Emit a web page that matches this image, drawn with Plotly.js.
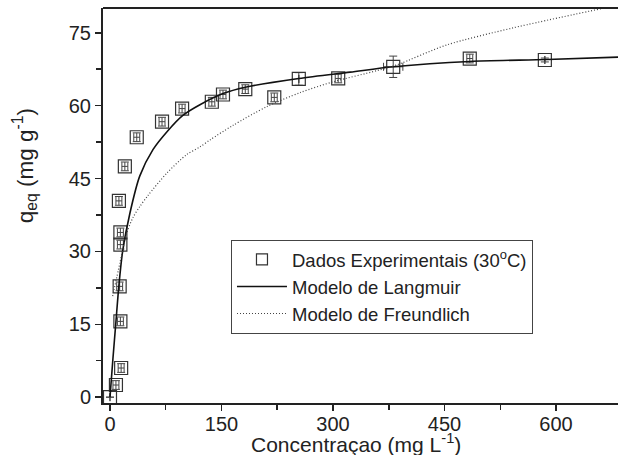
<!DOCTYPE html>
<html>
<head>
<meta charset="utf-8">
<script src="https://cdn.plot.ly/plotly-3.0.1.min.js"></script>
<style>html,body{margin:0;padding:0;background:#fff;}#chart{width:618px;height:455px;}</style>
</head>
<body>
<div id="chart"></div>
<script>
// Experimental data (30 °C)
var expC    = [0, 8, 15, 14, 13, 14, 14, 12, 20, 36, 70, 97, 137, 152, 182, 221, 254, 307, 381, 484, 585];
var expQ    = [0, 2.5, 6.0, 15.6, 22.8, 31.4, 33.9, 40.4, 47.5, 53.5, 56.7, 59.4, 60.8, 62.3, 63.4, 61.7, 65.5, 65.6, 68.0, 69.7, 69.4];
var expErrQ = [0, 0.9, 0.9, 0.9, 0.9, 0.9, 0.9, 0.9, 0.9, 0.9, 0.9, 0.9, 0.9, 0.9, 0.9, 0.9, 1.3, 0.9, 2.2, 0.9, 0.4];
var expErrC = [0, 4, 4, 4, 4, 4, 4, 4, 4, 4, 4, 4, 4, 4, 4, 4, 0, 4, 13, 4, 0];

// Langmuir model curve
var langC = [0, 4, 8, 12, 17, 27, 40, 58, 77, 98, 121, 152, 182, 254, 323, 381, 484, 588, 684];
var langQ = [0, 8, 15.5, 23, 30, 38, 45.5, 51, 54.7, 58.0, 60.2, 62.5, 63.8, 65.6, 66.9, 68.0, 69.1, 69.5, 70.0];

// Freundlich model curve
var freC = [3.6, 13.5, 22, 31, 40, 51, 77, 103, 121, 135, 165, 211, 256, 300, 359, 386, 453, 542, 662];
var freQ = [20.8, 27.7, 33.5, 37, 39.2, 41.5, 46.2, 49.9, 51.5, 53, 55.9, 59.8, 62.7, 64.9, 67.2, 68.4, 72.5, 76.0, 80.0];

// Labels
var legendNames = ['Dados Experimentais (30<sup>o</sup>C)', 'Modelo de Langmuir', 'Modelo de Freundlich'];
var xTitle = 'Concentraçao (mg L<sup>-1</sup>)';
var yTitle = 'q<sub>eq</sub> (mg g<sup>-1</sup>)';
var xTicks = [0, 150, 300, 450, 600];
var yTicks = [0, 15, 30, 45, 60, 75];

var ink = '#222';
var traces = [
  {
    x: expC, y: expQ, type: 'scatter', mode: 'markers', name: legendNames[0], showlegend: false,
    marker: {symbol: 'square-open', size: 13, color: '#333', line: {width: 1.2, color: '#333'}},
    error_y: {type: 'data', array: expErrQ, visible: true, color: '#444', thickness: 1, width: 4},
    error_x: {type: 'data', array: expErrC, visible: true, color: '#444', thickness: 1, width: 4}
  },
  {
    // legend entry for the experimental series (no error bars in the key)
    x: [null], y: [null], type: 'scatter', mode: 'markers', name: legendNames[0], showlegend: true,
    marker: {symbol: 'square-open', size: 11, color: '#333', line: {width: 1.2, color: '#333'}}
  },
  {
    x: langC, y: langQ, type: 'scatter', mode: 'lines', name: legendNames[1],
    line: {color: '#111', width: 1.6, shape: 'spline', smoothing: 0.8}
  },
  {
    x: freC, y: freQ, type: 'scatter', mode: 'lines', name: legendNames[2],
    line: {color: '#444', width: 1.2, dash: '1px,2px', shape: 'spline', smoothing: 0.8}
  }
];

var layout = {
  width: 618, height: 455,
  margin: {l: 103, r: 0, t: 8, b: 52},
  paper_bgcolor: '#fff', plot_bgcolor: '#fff',
  font: {family: 'Liberation Sans, Arial, sans-serif', color: ink, size: 19},
  showlegend: true,
  legend: {
    x: 0.2485, y: 0.413, xanchor: 'left', yanchor: 'top',
    bordercolor: '#444', borderwidth: 1, bgcolor: '#fff',
    font: {size: 18.5, color: ink}, itemwidth: 50, tracegroupgap: 0
  },
  xaxis: {
    range: [-9.4, 683.4], tickvals: xTicks, ticktext: xTicks.map(String),
    ticks: 'outside', ticklen: 6, tickwidth: 1.5, tickcolor: ink,
    minor: {tickvals: [75, 225, 375, 525], ticks: 'outside', ticklen: 5, tickwidth: 1.5, tickcolor: ink},
    showline: true, linecolor: ink, linewidth: 2,
    showgrid: false, zeroline: false, ticklabelstandoff: -4,
    tickfont: {size: 20, color: ink}
  },
  yaxis: {
    range: [-1.2, 80.1], tickvals: yTicks, ticktext: yTicks.map(String),
    ticks: 'outside', ticklen: 6, tickwidth: 1.5, tickcolor: ink,
    minor: {tickvals: [7.5, 22.5, 37.5, 52.5, 67.5], ticks: 'outside', ticklen: 5, tickwidth: 1.5, tickcolor: ink},
    showline: true, linecolor: ink, linewidth: 2,
    showgrid: false, zeroline: false,
    tickfont: {size: 20, color: ink}
  },
  annotations: [
    {text: xTitle, xref: 'paper', yref: 'paper', x: 0.492, y: -0.102, xanchor: 'center', yanchor: 'middle',
     showarrow: false, font: {size: 21, color: ink}},
    {text: yTitle, xref: 'paper', yref: 'paper', x: -0.153, y: 0.6, xanchor: 'center', yanchor: 'middle',
     textangle: -90, showarrow: false, font: {size: 22.5, color: ink}}
  ],
  shapes: [
    {type: 'line', xref: 'paper', yref: 'paper', x0: 0, x1: 1, y0: 1, y1: 1, line: {color: ink, width: 2}}
  ]
};

Plotly.newPlot('chart', traces, layout, {displayModeBar: false, staticPlot: true});
</script>
</body>
</html>
